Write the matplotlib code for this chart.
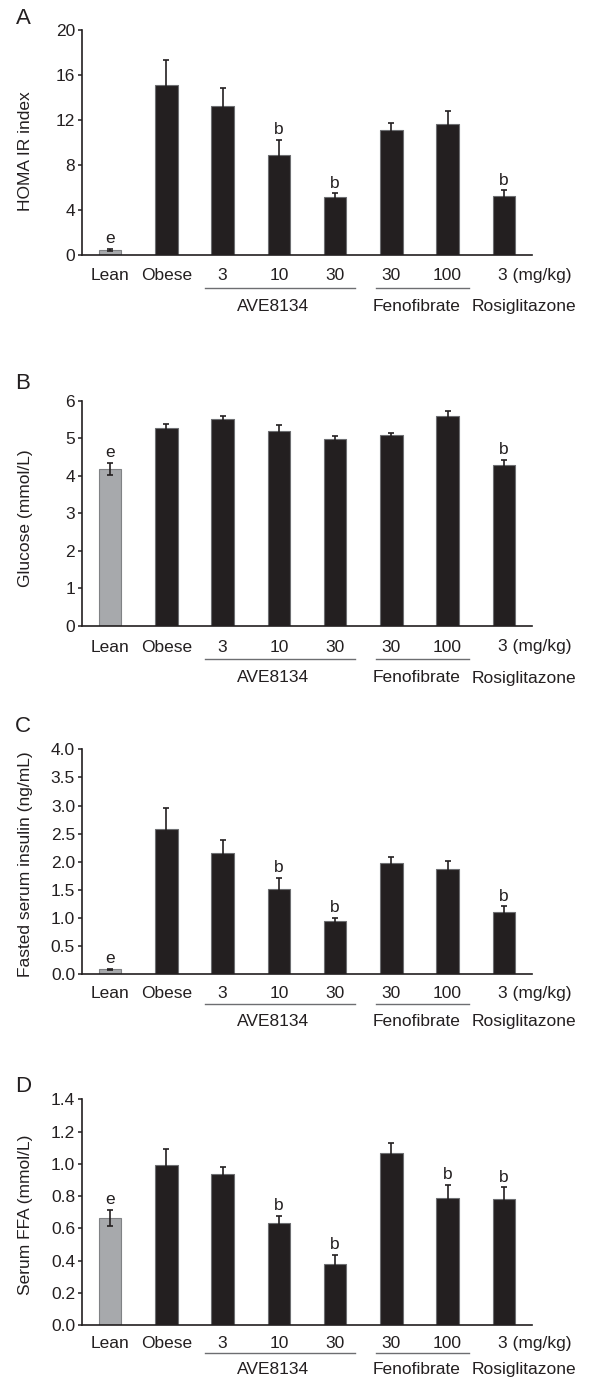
import matplotlib
matplotlib.use("Agg")
import matplotlib.pyplot as plt
import numpy as np

plt.rcParams['font.family'] = ['Liberation Sans', 'DejaVu Sans']

categories = ["Lean", "Obese", "3", "10", "30", "30", "100", "3"]
groups = ["AVE8134", "Fenofibrate", "Rosiglitazone"]

homa = [0.44, 15.1, 13.25, 8.92, 5.18, 11.07, 11.67, 5.25]
homa_err = [0.09, 2.25, 1.58, 1.32, 0.29, 0.64, 1.09, 0.52]
homa_sig = ["e", "", "", "b", "b", "", "", "b"]

glucose = [4.19, 5.26, 5.52, 5.20, 4.99, 5.08, 5.58, 4.30]
glucose_err = [0.16, 0.12, 0.07, 0.15, 0.06, 0.06, 0.15, 0.13]
glucose_sig = ["e", "", "", "", "", "", "", "b"]

insulin = [0.09, 2.58, 2.15, 1.52, 0.94, 1.97, 1.87, 1.10]
insulin_err = [0.01, 0.37, 0.24, 0.20, 0.06, 0.12, 0.14, 0.11]
insulin_sig = ["e", "", "", "b", "b", "", "", "b"]

ffa = [0.665, 0.993, 0.94, 0.636, 0.382, 1.065, 0.786, 0.784]
ffa_err = [0.052, 0.097, 0.043, 0.041, 0.056, 0.062, 0.086, 0.071]
ffa_sig = ["e", "", "", "b", "b", "", "b", "b"]

panels = [
    dict(letter="A", ylabel="HOMA IR index", vals=homa, err=homa_err, sig=homa_sig,
         yticks=[0, 4, 8, 12, 16, 20], fmt="{:.0f}"),
    dict(letter="B", ylabel="Glucose (mmol/L)", vals=glucose, err=glucose_err, sig=glucose_sig,
         yticks=[0, 1, 2, 3, 4, 5, 6], fmt="{:.0f}"),
    dict(letter="C", ylabel="Fasted serum insulin (ng/mL)", vals=insulin, err=insulin_err, sig=insulin_sig,
         yticks=[0.0, 0.5, 1.0, 1.5, 2.0, 2.5, 3.0, 3.5, 4.0], fmt="{:.1f}"),
    dict(letter="D", ylabel="Serum FFA (mmol/L)", vals=ffa, err=ffa_err, sig=ffa_sig,
         yticks=[0.0, 0.2, 0.4, 0.6, 0.8, 1.0, 1.2, 1.4], fmt="{:.1f}"),
]

W, H = 589, 1380
fig = plt.figure(figsize=(W / 100, H / 100), dpi=100)

# layout in pixels: (top, bottom) of each axes
ax_px = [(30, 255), (400.7, 626), (749.3, 974.3), (1099.3, 1325.3)]
letter_y = [18, 383.3, 726.7, 1086.7]
ylabel_y = [0.462, 0.479, 0.49, 0.488]
# offsets below axis (px): category labels, underline, group labels
offs = [(20.7, 33, 51.7), (21, 33, 52), (19, 30, 47), (18.3, 27.7, 44.3)]

left_px, right_px = 82, 532
dark = "#231f20"
black_bar = "#231f20"
gray_bar = "#a7a9ac"
fs = 12.5

x = np.arange(len(categories))
for p, (top, bot), ly, yl, (oc, ou, og) in zip(panels, ax_px, letter_y, ylabel_y, offs):
    hpx = bot - top
    ax = fig.add_axes([left_px / W, 1 - bot / H, (right_px - left_px) / W, hpx / H])
    colors = [gray_bar] + [black_bar] * (len(categories) - 1)
    edges = ["#808285"] + ["#6d6e71"] * (len(categories) - 1)
    ax.bar(x, p["vals"], width=0.4, color=colors, edgecolor=edges, linewidth=0.8, zorder=2)
    ax.errorbar(x, p["vals"], yerr=p["err"], fmt="none", ecolor=dark, elinewidth=1.2,
                capsize=2.2, capthick=1.2, zorder=3)
    yt = p["yticks"]
    ax.set_ylim(0, yt[-1])
    ax.set_xlim(-0.5, len(categories) - 0.5)
    ax.set_yticks(yt)
    ax.set_yticklabels([p["fmt"].format(v) for v in yt], fontsize=fs, color=dark)
    ax.set_xticks([])
    for s in ["top", "right"]:
        ax.spines[s].set_visible(False)
    for s in ["left", "bottom"]:
        ax.spines[s].set_color(dark)
        ax.spines[s].set_linewidth(1.2)
    ax.tick_params(axis="y", direction="out", length=3, width=1.1, color=dark, pad=2)
    ax.set_ylabel(p["ylabel"], fontsize=fs, color=dark, va="center")
    ax.yaxis.set_label_coords(-0.125, yl)

    # significance letters
    for xi, v, e, s in zip(x, p["vals"], p["err"], p["sig"]):
        if s:
            ax.annotate(s, (xi, v + e), xytext=(0, 4), textcoords="offset points",
                        ha="center", va="baseline", fontsize=fs, color=dark)

    # category labels
    tr = ax.get_xaxis_transform()
    for xi, c in zip(x[:-1], categories[:-1]):
        ax.text(xi, -oc / hpx, c, transform=tr, ha="center", va="center",
                fontsize=fs, color=dark, clip_on=False)
    ax.text(x[-1] - 0.1, -oc / hpx, categories[-1] + " (mg/kg)", transform=tr,
            ha="left", va="center", fontsize=fs, color=dark, clip_on=False)
    # group underlines
    for x0, x1 in [(1.69, 4.36), (4.73, 6.38)]:
        ax.plot([x0, x1], [-ou / hpx, -ou / hpx], transform=tr, color="#6d6e71",
                lw=1.0, clip_on=False)
    for gx, g in zip([2.9, 5.44, 7.35], groups):
        ax.text(gx, -og / hpx, g, transform=tr, ha="center", va="center",
                fontsize=fs, color=dark, clip_on=False)

    fig.text(23 / W, 1 - ly / H, p["letter"], ha="center", va="center",
             fontsize=16, color=dark)

fig.savefig("out.png", dpi=100)
